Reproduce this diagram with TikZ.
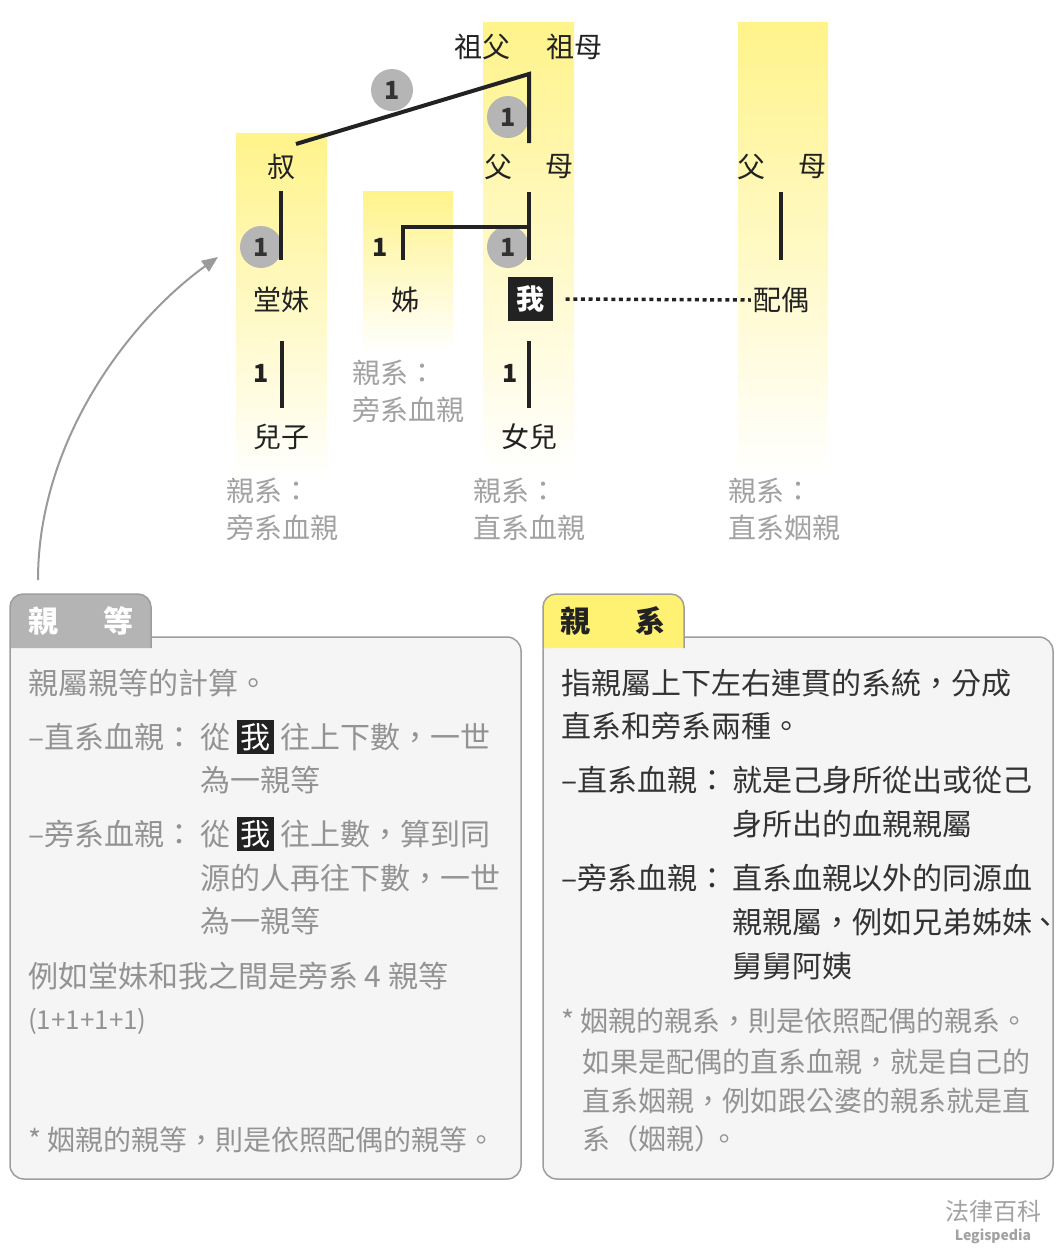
\documentclass[tikz,border=0pt]{standalone}
\usepackage{fontspec}
\setmainfont{Noto Sans CJK TC}
\usetikzlibrary{arrows.meta}
\definecolor{ink}{HTML}{222222}
\definecolor{dark}{HTML}{333333}
\definecolor{circ}{HTML}{B5B5B5}
\definecolor{ylw}{HTML}{FFF38A}
\definecolor{tabylw}{HTML}{FFF172}
\definecolor{tabgray}{HTML}{B4B4B4}
\definecolor{boxbg}{HTML}{F5F5F5}
\definecolor{boxline}{HTML}{9E9E9E}
\definecolor{gtxt}{HTML}{939393}
\definecolor{glbl}{HTML}{A2A2A2}
\definecolor{arr}{HTML}{9A9A9A}
\newcommand\mebox{{\setlength\fboxsep{3.5pt}\colorbox{ink}{\textcolor{white}{我}}}}
\begin{document}
\begin{tikzpicture}[x=1pt,y=-1pt,
  col/.style={top color=ylw, bottom color=white, draw=none},
  lbl/.style={font=\fontsize{28}{30}\selectfont, text=ink, inner sep=0pt},
  glab/.style={font=\fontsize{28}{30}\selectfont, text=glbl, inner sep=0pt, anchor=west},
  tline/.style={draw=ink, line width=4pt},
  numc/.style={circle, fill=circ, minimum size=42pt, inner sep=0pt, font=\bfseries\fontsize{25}{27}\selectfont, text=dark},
  num/.style={inner sep=0pt, font=\bfseries\fontsize{25}{27}\selectfont, text=ink},
  bodybox/.style={fill=boxbg, draw=boxline, line width=1.5pt, rounded corners=14pt},
  tabbox/.style={draw=boxline, line width=1.5pt, rounded corners=13pt},
  tabtxt/.style={inner sep=0pt, font=\bfseries\fontsize{30}{32}\selectfont},
  btxt/.style={inner sep=0pt, anchor=west, font=\fontsize{30}{34}\selectfont},
  ftxt/.style={inner sep=0pt, anchor=west, font=\fontsize{28}{32}\selectfont, text=gtxt}
]
\useasboundingbox (0,0) rectangle (1064,1254);
\fill[white] (0,0) rectangle (1064,1254);

% yellow columns
\fill[col] (236,133) rectangle (327,482);
\fill[col] (363,191) rectangle (453,352);
\fill[col] (483,22) rectangle (574,472);
\fill[col] (738,22) rectangle (828,476);

% circles (under the lines)
\node[numc] (c1) at (392,90) {1};
\node[numc] (c2) at (508,117) {1};
\node[numc] (c3) at (261,247) {1};
\node[numc] (c4) at (508,247) {1};
\node[num] (n1) at (380,247) {1};
\node[num] (n2) at (261,373) {1};
\node[num] (n3) at (510,373) {1};

% tree labels
\node[lbl] (gf) at (482,47) {祖父};
\node[lbl] (gm) at (574,47) {祖母};
\node[lbl] (uncle) at (281,167) {叔};
\node[lbl] (fa) at (498,167) {父};
\node[lbl] (mo) at (559,167) {母};
\node[lbl] (fa2) at (751,167) {父};
\node[lbl] (mo2) at (812,167) {母};
\node[lbl] (cousin) at (281,300) {堂妹};
\node[lbl] (sis) at (405,300) {姊};
\node[lbl, fill=ink, text=white, font=\bfseries\fontsize{28}{30}\selectfont, minimum width=45pt, minimum height=44pt] (me) at (530,299) {我};
\node[lbl] (spouse) at (781,300) {配偶};
\node[lbl] (son) at (281,437) {兒子};
\node[lbl] (dau) at (529,437) {女兒};

% connector points
\coordinate (gpj) at (529,74);
\coordinate (uncTop) at (296,144);
\coordinate (parTop) at (529,143);
\coordinate (uncBot) at (281,191);
\coordinate (cousTop) at (281,260);
\coordinate (parBot) at (529,192);
\coordinate (meTop) at (529,260);
\coordinate (sibj) at (529,227);
\coordinate (sisTop) at (403,260);
\coordinate (cousBot) at (282,341);
\coordinate (sonTop) at (282,408);
\coordinate (meBot) at (529,341);
\coordinate (dauTop) at (529,408);
\coordinate (p2Bot) at (781,192);
\coordinate (spTop) at (781,260);

\draw[tline] (uncTop) -- (gpj) -- (parTop);
\draw[tline] (uncBot) -- (cousTop);
\draw[tline] (parBot) -- (meTop);
\draw[tline] (sisTop) |- (sibj);
\draw[tline] (cousBot) -- (sonTop);
\draw[tline] (meBot) -- (dauTop);
\draw[tline] (p2Bot) -- (spTop);
\draw[draw=ink, line width=3.5pt, dash pattern=on 4pt off 3.6pt] ([xshift=13pt]me.east) -- ([xshift=-2pt]spouse.west);

% gray relation labels
\node[glab] (l1a) at (226,491) {親系：};
\node[glab] (l1b) at (226,528) {旁系血親};
\node[glab] (l2a) at (352,373) {親系：};
\node[glab] (l2b) at (352,410) {旁系血親};
\node[glab] (l3a) at (473,491) {親系：};
\node[glab] (l3b) at (473,528) {直系血親};
\node[glab] (l4a) at (728,491) {親系：};
\node[glab] (l4b) at (728,528) {直系姻親};

% boxes
\path[bodybox] (10,637) rectangle (521,1179);
\path[bodybox] (543,637) rectangle (1053,1179);
\filldraw[tabbox, fill=tabgray] (10,648) -- (10,594) -- (151,594) -- (151,648);
\filldraw[tabbox, fill=tabylw] (543,648) -- (543,594) -- (684,594) -- (684,648);
\node[tabtxt, text=white] (t1a) at (43,621) {親};
\node[tabtxt, text=white] (t1b) at (118,621) {等};
\node[tabtxt, text=ink] (t2a) at (575,621) {親};
\node[tabtxt, text=ink] (t2b) at (650,621) {系};

% curved arrow
\coordinate (arrS) at (38,580);
\coordinate (arrE) at (218,257);
\draw[arr, line width=2pt, -{Triangle[length=16pt,width=13pt]}] (arrS) .. controls (38,440) and (130,320) .. (arrE);

% left box text
\node[btxt, text=gtxt] (a1) at (28,683) {親屬親等的計算。};
\node[btxt, text=gtxt] (a2) at (28,737) {–直系血親：};
\node[btxt, text=gtxt] (a2b) at (200,737) {從 \mebox\ 往上下數，一世};
\node[btxt, text=gtxt] (a3) at (200,780) {為一親等};
\node[btxt, text=gtxt] (a4) at (28,834) {–旁系血親：};
\node[btxt, text=gtxt] (a4b) at (200,834) {從 \mebox\ 往上數，算到同};
\node[btxt, text=gtxt] (a5) at (200,878) {源的人再往下數，一世};
\node[btxt, text=gtxt] (a6) at (200,921) {為一親等};
\node[btxt, text=gtxt] (a7) at (28,976) {例如堂妹和我之間是旁系 4 親等};
\node[ftxt, font=\fontsize{26}{30}\selectfont] (a8) at (28,1021) {(1+1+1+1)};
\node[ftxt] (a9) at (28,1140) {* 姻親的親等，則是依照配偶的親等。};

% right box text
\node[btxt, text=dark] (b1) at (561,683) {指親屬上下左右連貫的系統，分成};
\node[btxt, text=dark] (b2) at (561,726) {直系和旁系兩種。};
\node[btxt, text=dark] (b3) at (561,780) {–直系血親：};
\node[btxt, text=dark] (b3b) at (732,780) {就是己身所從出或從己};
\node[btxt, text=dark] (b4) at (732,824) {身所出的血親親屬};
\node[btxt, text=dark] (b5) at (561,878) {–旁系血親：};
\node[btxt, text=dark] (b5b) at (732,878) {直系血親以外的同源血};
\node[btxt, text=dark] (b6) at (732,922) {親親屬，例如兄弟姊妹\kern-2pt 、};
\node[btxt, text=dark] (b7) at (732,966) {舅舅阿姨};
\node[ftxt] (b8) at (561,1021) {* 姻親的親系，則是依照配偶的親系。};
\node[ftxt] (b9) at (582,1062) {如果是配偶的直系血親，就是自己的};
\node[ftxt] (b10) at (582,1101) {直系姻親，例如跟公婆的親系就是直};
\node[ftxt] (b11) at (582,1139) {系（姻親）\kern-12pt 。};

% logo
\node[inner sep=0pt, text=glbl, font=\fontsize{24}{26}\selectfont] (logo1) at (993,1211) {法律百科};
\node[inner sep=0pt, text=glbl, font=\bfseries\fontsize{14}{16}\selectfont] (logo2) at (993,1236) {Legispedia};
\end{tikzpicture}
\end{document}
